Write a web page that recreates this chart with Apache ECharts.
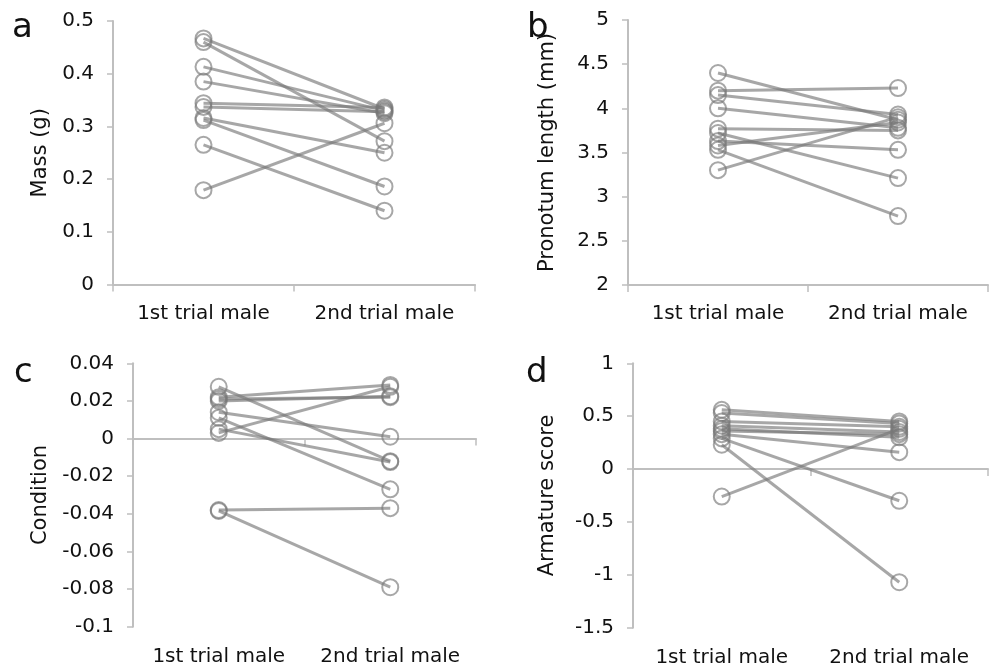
<!DOCTYPE html>
<html>
<head>
<meta charset="utf-8">
<script src="https://cdn.jsdelivr.net/npm/echarts@6/dist/echarts.min.js"></script>
<style>
html,body{margin:0;padding:0;background:#fff;}
#chart{width:990px;height:668px;}
</style>
</head>
<body>
<div id="chart"></div>
<script>
// Categories
const categories = ['1st trial male', '2nd trial male'];

// Panel a: Mass (g)
const massFirst  = [0.467, 0.460, 0.413, 0.385, 0.344, 0.337, 0.316, 0.312, 0.265, 0.179];
const massSecond = [0.333, 0.272, 0.330, 0.325, 0.336, 0.328, 0.250, 0.186, 0.140, 0.306];

// Panel b: Pronotum length (mm)
const pronFirst  = [4.40, 4.20, 4.15, 4.00, 3.77, 3.72, 3.63, 3.53, 3.58, 3.30];
const pronSecond = [3.87, 4.23, 3.93, 3.78, 3.75, 3.21, 3.53, 2.78, 3.84, 3.90];

// Panel c: Condition
const condFirst  = [0.0275, 0.022, 0.021, 0.003, 0.014, 0.011, 0.005, 0.020, -0.038, -0.0385];
const condSecond = [-0.012, 0.0285, 0.022, 0.0275, 0.001, -0.027, -0.0125, 0.0225, -0.037, -0.079];

// Panel d: Armature score
const armFirst  = [0.56, 0.53, 0.45, 0.41, 0.36, 0.33, 0.29, 0.23, -0.26, 0.38];
const armSecond = [0.45, 0.43, 0.40, 0.35, 0.33, 0.16, -0.30, -1.07, 0.38, 0.30];

const FONT = 'DejaVu Sans';
const TXT = '#111';
const AX = '#bfbfbf';
const LINE = 'rgba(120,120,120,0.65)';

function pairs(first, second, xIdx, yIdx) {
  return first.map((f, i) => ({
    type: 'line',
    xAxisIndex: xIdx,
    yAxisIndex: yIdx,
    data: [[0, f], [1, second[i]]],
    symbol: 'circle',
    symbolSize: 16,
    showSymbol: true,
    silent: true,
    animation: false,
    lineStyle: { color: LINE, width: 3 },
    itemStyle: { color: 'rgba(0,0,0,0)', borderColor: LINE, borderWidth: 2 },
    emphasis: { disabled: true }
  }));
}

function labelX(grid, margin) {
  return {
    type: 'category', gridIndex: grid, data: categories, boundaryGap: true,
    position: 'bottom',
    axisLine: { show: true, onZero: false, lineStyle: { color: AX, width: 2 } },
    axisTick: { show: true, length: 7, lineStyle: { color: AX, width: 1.5 } },
    axisLabel: { interval: 0, margin: margin, fontSize: 20, fontFamily: FONT, color: TXT },
    splitLine: { show: false }
  };
}

function yAx(grid, min, max, interval, name, gap) {
  return {
    type: 'value', gridIndex: grid, min: min, max: max, interval: interval,
    name: name, nameLocation: 'middle', nameGap: gap,
    nameTextStyle: { fontSize: 21, fontFamily: FONT, color: TXT },
    axisLine: { show: true, lineStyle: { color: AX, width: 2 } },
    axisTick: { show: true, length: 6, lineStyle: { color: AX, width: 1.5 } },
    axisLabel: { margin: 19, fontSize: 20, fontFamily: FONT, color: TXT },
    splitLine: { show: false }
  };
}

const zeroX = (grid) => ({
  type: 'category', gridIndex: grid, data: categories, boundaryGap: true,
  axisLine: { show: true, onZero: true, lineStyle: { color: AX, width: 2 } },
  axisTick: { show: true, length: 7, lineStyle: { color: AX, width: 1.5 } },
  axisLabel: { show: false },
  splitLine: { show: false }
});
const bottomLabelX = (grid) => ({
  type: 'category', gridIndex: grid, data: categories, boundaryGap: true,
  position: 'bottom',
  axisLine: { show: false, onZero: false },
  axisTick: { show: false },
  axisLabel: { interval: 0, margin: 20, fontSize: 20, fontFamily: FONT, color: TXT },
  splitLine: { show: false }
});

const letter = (t, x, y) => ({
  type: 'text', left: x, top: y, silent: true,
  style: { text: t, font: '34px "DejaVu Sans"', fill: TXT }
});

const option = {
  animation: false,
  backgroundColor: '#fff',
  grid: [
    { left: 113, top: 21, width: 362, height: 263.5 },
    { left: 628, top: 20, width: 360, height: 265 },
    { left: 133, top: 363.3, width: 343, height: 263.4 },
    { left: 633, top: 363.3, width: 355, height: 264.4 }
  ],
  xAxis: [
    labelX(0, 19),
    labelX(1, 19),
    zeroX(2),
    bottomLabelX(2),
    zeroX(3),
    bottomLabelX(3)
  ],
  yAxis: [
    yAx(0, 0, 0.5, 0.1, 'Mass (g)', 62),
    yAx(1, 2, 5, 0.5, 'Pronotum length (mm)', 70),
    yAx(2, -0.1, 0.04, 0.02, 'Condition', 82),
    yAx(3, -1.5, 1, 0.5, 'Armature score', 75)
  ],
  graphic: [
    letter('a', 12, 11),
    letter('b', 527, 11),
    letter('c', 14, 356),
    letter('d', 526, 356)
  ],
  series: [].concat(
    pairs(massFirst, massSecond, 0, 0),
    pairs(pronFirst, pronSecond, 1, 1),
    pairs(condFirst, condSecond, 2, 2),
    pairs(armFirst, armSecond, 4, 3)
  )
};

const chart = echarts.init(document.getElementById('chart'), null, { renderer: 'canvas' });
chart.setOption(option);
</script>
</body>
</html>
